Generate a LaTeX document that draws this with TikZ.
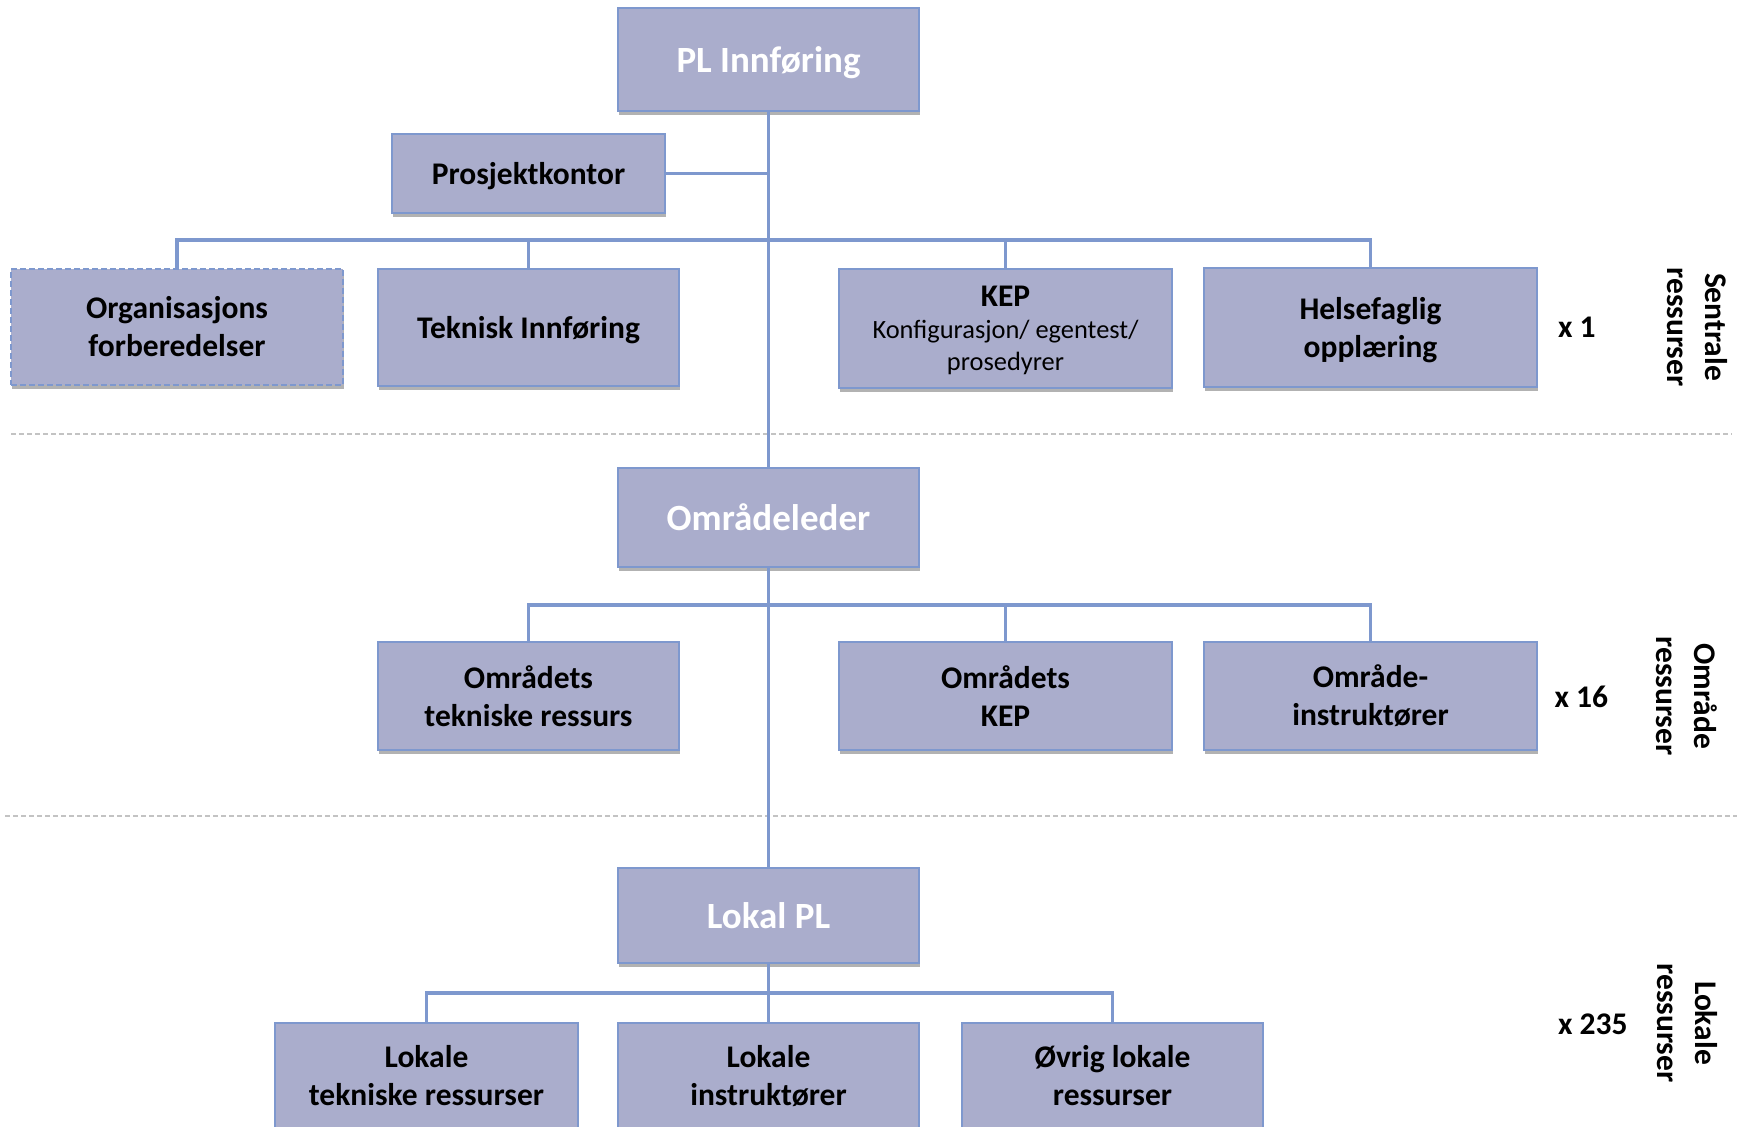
\documentclass[tikz,border=0pt]{standalone}
\usepackage{fontspec}
\setmainfont{Carlito}
\usetikzlibrary{shadows}
\definecolor{boxfill}{RGB}{170,173,204}
\definecolor{boxline}{RGB}{126,152,206}
\definecolor{sepgray}{RGB}{195,195,195}
\begin{document}
\begin{tikzpicture}[x=1pt,y=-1pt,
  box/.style={draw=boxline, line width=2pt, fill=boxfill, inner sep=0pt, align=center,
    drop shadow={shadow xshift=1pt, shadow yshift=-4pt, opacity=0.3, fill=black}},
  nodepth/.style={text depth=0pt},
  lbl/.style={font=\fontsize{31.5}{38}\selectfont\bfseries},
  head/.style={font=\fontsize{37}{44}\selectfont\bfseries, text=white},
  conn/.style={draw=boxline, line width=3.5pt},
  sep/.style={draw=sepgray, line width=1.5pt, dash pattern=on 5pt off 3pt},
  side/.style={font=\fontsize{31.5}{38}\selectfont\bfseries, align=center, rotate=-90},
  mult/.style={font=\fontsize{31.5}{38}\selectfont\bfseries, anchor=west}]
\useasboundingbox (0,0) rectangle (1743,1127);
\clip (0,0) rectangle (1743,1127);
\fill[white] (0,0) rectangle (1743,1127);

% separators
\coordinate (s1a) at (11,434);
\coordinate (s1b) at (1732,434);
\coordinate (s2a) at (5,816);
\coordinate (s2b) at (1737,816);
\draw[sep] (s1a) -- (s1b);
\draw[sep] (s2a) -- (s2b);

% top level
\node[box, head, nodepth, minimum width=301pt, minimum height=103pt] (pl) at (768.5,59.5) {PL Innføring};
\node[box, lbl, nodepth, minimum width=273pt, minimum height=79pt] (pk) at (528.5,173.5) {Prosjektkontor};
\node[box, lbl, dash pattern=on 6pt off 3pt, minimum width=332pt, minimum height=116pt] (org) at (177,327) {Organisasjons\\forberedelser};
\node[box, lbl, nodepth, minimum width=301pt, minimum height=117pt] (tek) at (528.5,327.5) {Teknisk Innføring};
\node[box, text depth=-5pt, font=\fontsize{26.4}{32}\selectfont, minimum width=333pt, minimum height=119pt] (kep) at (1005.5,328.5)
  {{\fontsize{31.5}{34}\selectfont\bfseries KEP}\\Konfigurasjon/ egentest/\\prosedyrer};
\node[box, lbl, nodepth, minimum width=333pt, minimum height=119pt] (helse) at (1370.5,327.5) {Helsefaglig\\opplæring};

% middle level
\node[box, head, minimum width=301pt, minimum height=99pt] (omr) at (768.5,517.5) {Områdeleder};
\node[box, lbl, minimum width=301pt, minimum height=108pt] (otek) at (528.5,696) {Områdets\\tekniske ressurs};
\node[box, lbl, minimum width=333pt, minimum height=108pt] (okep) at (1005.5,696) {Områdets\\KEP};
\node[box, lbl, minimum width=333pt, minimum height=108pt] (oinst) at (1370.5,696) {Område-\\instruktører};

% bottom level
\node[box, head, minimum width=301pt, minimum height=95pt] (lpl) at (768.5,915.5) {Lokal PL};
\node[box, lbl, minimum width=303pt, minimum height=106pt] (ltek) at (426.5,1076) {Lokale\\tekniske ressurser};
\node[box, lbl, minimum width=301pt, minimum height=106pt] (linst) at (768.5,1076) {Lokale\\instruktører};
\node[box, lbl, minimum width=301pt, minimum height=106pt] (lovr) at (1112.5,1076) {Øvrig lokale\\ressurser};

% connectors
\coordinate (b1) at (768.5,240);
\coordinate (b2) at (768.5,605);
\coordinate (b3) at (768.5,993);
\draw[conn] (pl.south) -- (omr.north);
\draw[conn] (omr.south) -- (lpl.north);
\draw[conn] (pk.east) -- (pk.east -| pl.south);
\draw[conn] (org.north) |- (b1) -| (helse.north);
\draw[conn] (tek.north) -- (tek.north |- b1);
\draw[conn] (kep.north) -- (kep.north |- b1);
\draw[conn] (otek.north) |- (b2) -| (oinst.north);
\draw[conn] (okep.north) -- (okep.north |- b2);
\draw[conn] (ltek.north) |- (b3) -| (lovr.north);
\draw[conn] (lpl.south) -- (linst.north);

% side labels
\node[mult] (m1) at (1554.5,327) {x 1};
\node[mult] (m2) at (1551,697) {x 16};
\node[mult] (m3) at (1554.5,1024) {x 235};
\node[side] (sd1) at (1697.5,327) {Sentrale\\ressurser};
\node[side] (sd2) at (1686.5,696) {Område\\ressurser};
\node[side] (sd3) at (1687.5,1023) {Lokale\\ressurser};
\end{tikzpicture}
\end{document}
